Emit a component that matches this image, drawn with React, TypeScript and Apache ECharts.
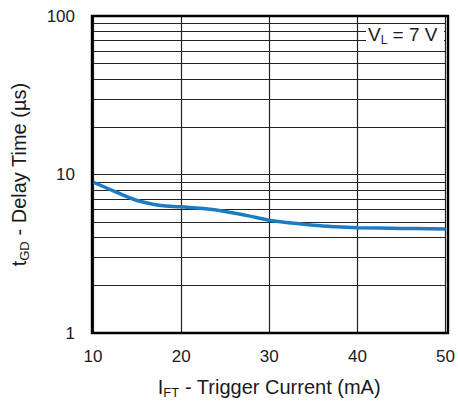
import React, { useEffect, useRef } from "react";
import * as echarts from "echarts";

const xTicks = [10, 20, 30, 40, 50];
const yMajor = [1, 10, 100];
const yMinorGrid = [2, 3, 4, 5, 6, 7, 8, 9, 20, 30, 40, 50, 60, 70, 80, 90];
const currentMA = [10, 12.5, 15, 17.5, 20, 22.5, 25, 27.5, 30, 32.5, 35, 37.5, 40, 45, 50];
const delayUs = [8.97, 7.8, 6.85, 6.4, 6.25, 6.1, 5.85, 5.5, 5.15, 4.95, 4.78, 4.68, 4.62, 4.57, 4.53];

export default function App() {
  const ref = useRef<HTMLDivElement>(null);
  useEffect(() => {
    const chart = echarts.init(ref.current!, null, { renderer: "svg" });
    const font = "Liberation Sans, Arial, Helvetica, sans-serif";
    const rich = (size: number, sub: number, colorKey: string) => ({
      m: { fontSize: size, lineHeight: size + 2, [colorKey]: "#1a1a1a", fontFamily: font, verticalAlign: "top" },
      s: {
        fontSize: sub,
        lineHeight: sub,
        [colorKey]: "#1a1a1a",
        fontFamily: font,
        verticalAlign: "bottom",
        padding: [Math.round(size * 0.5), 0, 0, 0],
      },
    });
    chart.setOption({
      animation: false,
      backgroundColor: "#fff",
      textStyle: { fontFamily: font },
      grid: { left: 92, top: 16, width: 356, height: 317, containLabel: false },
      xAxis: {
        type: "value",
        min: 10,
        max: 50,
        interval: 10,
        axisLine: { show: false },
        axisTick: { show: false },
        axisLabel: { fontSize: 17, color: "#1a1a1a", margin: 15, fontFamily: font },
        splitLine: { show: true, lineStyle: { color: "#222", width: 1.2 } },
        name: "{m|I}{s|FT}{m| - Trigger Current (mA)}",
        nameLocation: "middle",
        nameGap: 44,
        nameTextStyle: { rich: rich(20, 13, "color") },
      },
      yAxis: {
        type: "log",
        logBase: 10,
        min: 1,
        max: 100,
        axisLine: { show: false },
        axisTick: { show: false },
        axisLabel: { fontSize: 17, color: "#1a1a1a", margin: 18, fontFamily: font },
        splitLine: { show: true, lineStyle: { color: "#222", width: 1.2 } },
        name: "{m|t}{s|GD}{m| - Delay Time (µs)}",
        nameLocation: "middle",
        nameGap: 62,
        nameRotate: 90,
        nameTextStyle: { rich: rich(20, 13, "color") },
      },
      series: [
        {
          type: "line",
          data: [],
          markLine: {
            silent: true,
            symbol: "none",
            label: { show: false },
            lineStyle: { color: "#222", width: 1.2, type: "solid" },
            data: yMinorGrid.map((v) => ({ yAxis: v })),
          },
        },
        {
          type: "line",
          data: currentMA.map((x, i) => [x, delayUs[i]]),
          smooth: 0.4,
          showSymbol: false,
          lineStyle: { color: "#1b7cc4", width: 3.5 },
          z: 5,
        },
      ],
      graphic: [
        {
          type: "rect",
          shape: { x: 92, y: 16, width: 356, height: 317 },
          style: { fill: "none", stroke: "#000", lineWidth: 2.4 },
          z: 10,
        },
        {
          type: "rect",
          shape: { x: 366, y: 26, width: 78, height: 21 },
          style: { fill: "#fff" },
          z: 9,
        },
        {
          type: "text",
          x: 368,
          y: 25,
          z: 11,
          style: {
            text: "{m|V}{s|L}{m| = 7 V}",
            rich: rich(19, 12, "fill"),
          },
        },
      ],
    });
    return () => chart.dispose();
  }, []);
  return <div ref={ref} style={{ position: "fixed", left: 0, top: 0, width: 458, height: 411 }} />;
}
